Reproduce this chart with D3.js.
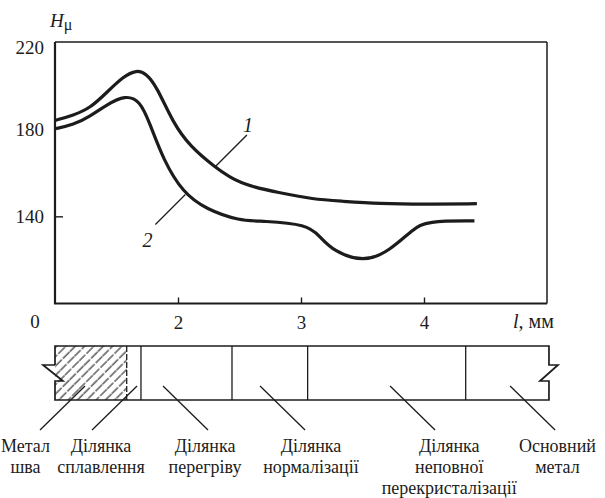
<!DOCTYPE html>
<html>
<head>
<meta charset="utf-8">
<script src="https://cdn.jsdelivr.net/npm/d3@7"></script>
<style>
  body { margin: 0; background: #fff; }
</style>
</head>
<body>
<svg id="chart" width="605" height="498"></svg>
<script>
// microhardness curves, [l (mm), H]
var curve1 = [[1.0, 184], [1.15, 186.4], [1.285, 189.6], [1.42, 196.8], [1.555, 204.2], [1.664, 207.2],
  [1.74, 205.6], [1.827, 199.6], [1.96, 182.8], [2.10, 172], [2.29, 163], [2.50, 154.6],
  [2.83, 150.8], [3.10, 147.8], [3.32, 147], [3.64, 145.8], [4.0, 145.5], [4.43, 145.8]];
var curve2 = [[1.0, 180.2], [1.15, 182], [1.285, 185.9], [1.42, 191.2], [1.57, 195.6], [1.69, 193.2],
  [1.77, 182.8], [1.88, 166], [2.04, 150.8], [2.23, 143.2], [2.50, 137.9], [2.69, 137.9],
  [3.05, 136.3], [3.15, 131], [3.26, 124.1], [3.51, 118.8], [3.72, 124.1], [3.91, 134.1],
  [4.02, 137.9], [4.41, 137.9]];
var curveNames = ["1", "2"];
var curveLabelAt = [2.30, 2.06];   // where the callout touches the curve (mm)

var xTicks = [2, 3, 4];
var yTicks = [140, 180, 220];

// zones of the weld joint (mm along l)
var zoneEdges = [1.0, 1.583, 1.699, 2.439, 3.054, 4.339, 5.016];
var zoneNames = [["Метал", "шва"], ["Ділянка", "сплавлення"], ["Ділянка", "перегріву"],
  ["Ділянка", "нормалізації"], ["Ділянка", "неповної", "перекристалізації"], ["Основний", "метал"]];
var zoneLabelAt = [0.76, 1.374, 2.22, 3.081, 4.205, 5.085];
var zoneLeaderAt = [1.244, 1.667, 1.878, 2.667, 3.724, 4.70];
var zoneLeaderDir = [-1, -1, 1, 1, 1, 1];

var serif = "'Liberation Serif', 'DejaVu Serif', serif";
var ink = "#1c1c1c";

var svg = d3.select("#chart").attr("font-family", serif);
var x = d3.scaleLinear().domain([1, 5]).range([55, 547]);
var y = d3.scaleLinear().domain([100, 220]).range([303.5, 42]);

// axes
var gx = svg.append("g").attr("transform", "translate(0," + y(100) + ")")
  .call(d3.axisBottom(x).tickValues(xTicks).tickSize(-6).tickFormat(d3.format("d")));
gx.attr("font-family", serif).attr("font-size", 19);
gx.select(".domain").remove();
gx.selectAll("line").attr("stroke", ink).attr("stroke-width", 1.4);
gx.selectAll("text").attr("y", 25).attr("dy", null).attr("fill", ink);

var gy = svg.append("g").attr("transform", "translate(" + x(1) + ",0)")
  .call(d3.axisLeft(y).tickValues(yTicks).tickSize(-8).tickPadding(11));
gy.attr("font-family", serif).attr("font-size", 19);
gy.select(".domain").remove();
gy.selectAll("line").attr("stroke", ink).attr("stroke-width", 1.4);
// 220 sits on the frame, 180 is hidden under curve 2
gy.selectAll(".tick").filter(function (d) { return d !== 140; }).select("line").remove();
gy.selectAll("text").attr("fill", ink)
  .attr("dy", function (d) { return d === 220 ? "0.62em" : "0.32em"; });

// frame
svg.append("line").attr("x1", x(1)).attr("x2", x(1)).attr("y1", y(220)).attr("y2", y(100))
  .attr("stroke", ink).attr("stroke-width", 2.2);
svg.append("line").attr("x1", x(1) - 1).attr("x2", x(5)).attr("y1", y(100)).attr("y2", y(100))
  .attr("stroke", ink).attr("stroke-width", 2.2);
svg.append("line").attr("x1", x(1)).attr("x2", x(5)).attr("y1", y(220)).attr("y2", y(220))
  .attr("stroke", ink).attr("stroke-width", 1.5);
svg.append("line").attr("x1", x(5)).attr("x2", x(5)).attr("y1", y(220)).attr("y2", y(100))
  .attr("stroke", ink).attr("stroke-width", 1.5);

// axis titles
var ht = svg.append("text").attr("x", 50).attr("y", 27).attr("font-size", 19).attr("fill", ink);
ht.append("tspan").attr("font-style", "italic").text("H");
ht.append("tspan").attr("font-size", 16).attr("dy", 3).text("μ");

svg.append("text").attr("x", 35).attr("y", 328).attr("text-anchor", "middle")
  .attr("font-size", 19).attr("fill", ink).text("0");
var lt = svg.append("text").attr("x", 513).attr("y", 328).attr("font-size", 20).attr("fill", ink);
lt.append("tspan").attr("font-style", "italic").text("l");
lt.append("tspan").text(", мм");

// curves
var line = d3.line().x(function (d) { return x(d[0]); }).y(function (d) { return y(d[1]); })
  .curve(d3.curveBasis);
[curve1, curve2].forEach(function (c) {
  svg.append("path").attr("d", line(c)).attr("fill", "none")
    .attr("stroke", ink).attr("stroke-width", 3.2).attr("stroke-linejoin", "round");
});

// curve callouts
function valueAt(c, l) {
  for (var i = 1; i < c.length; i++) {
    if (c[i][0] >= l) {
      var t = (l - c[i - 1][0]) / (c[i][0] - c[i - 1][0]);
      return c[i - 1][1] + t * (c[i][1] - c[i - 1][1]);
    }
  }
  return c[c.length - 1][1];
}
var calloutOffset = [[32, -32], [-30, 30]];
var calloutText = [[1, -3], [-8, 22]];
[curve1, curve2].forEach(function (c, i) {
  var px = x(curveLabelAt[i]), py = y(valueAt(c, curveLabelAt[i]));
  svg.append("line").attr("x1", px).attr("y1", py)
    .attr("x2", px + calloutOffset[i][0]).attr("y2", py + calloutOffset[i][1])
    .attr("stroke", ink).attr("stroke-width", 1.3);
  svg.append("text")
    .attr("x", px + calloutOffset[i][0] + calloutText[i][0])
    .attr("y", py + calloutOffset[i][1] + calloutText[i][1])
    .attr("text-anchor", "middle").attr("font-size", 20).attr("font-style", "italic")
    .attr("fill", ink).text(curveNames[i]);
});

// weld joint scheme
var schemeTop = 346, schemeBot = 400, notchY1 = 365, notchY2 = 381;
var xl = x(zoneEdges[0]), xr = x(zoneEdges[zoneEdges.length - 1]);

var defs = svg.append("defs");
defs.append("pattern").attr("id", "hatch").attr("patternUnits", "userSpaceOnUse")
  .attr("width", 6.6).attr("height", 20).attr("patternTransform", "rotate(45)")
  .append("line").attr("x1", 1).attr("y1", 0).attr("x2", 1).attr("y2", 20)
  .attr("stroke", "#222").attr("stroke-width", 1.1).attr("stroke-dasharray", "9,1.5");

svg.append("rect").attr("x", xl).attr("y", schemeTop)
  .attr("width", x(zoneEdges[1]) - xl).attr("height", schemeBot - schemeTop)
  .attr("fill", "url(#hatch)");

var outline = d3.path();
outline.moveTo(xl, notchY1);
outline.lineTo(xl, schemeTop); outline.lineTo(xr, schemeTop); outline.lineTo(xr, notchY1);
outline.lineTo(xr + 9, notchY1); outline.lineTo(xr - 9, notchY2); outline.lineTo(xr, notchY2);
outline.lineTo(xr, schemeBot); outline.lineTo(xl, schemeBot); outline.lineTo(xl, notchY2);
outline.lineTo(xl + 8, notchY2); outline.lineTo(xl - 12, notchY1); outline.lineTo(xl, notchY1);
svg.append("path").attr("d", outline.toString()).attr("fill", "none")
  .attr("stroke", ink).attr("stroke-width", 1.7).attr("stroke-linejoin", "miter");

zoneEdges.slice(1, -1).forEach(function (e, i) {
  svg.append("line").attr("x1", x(e)).attr("x2", x(e)).attr("y1", schemeTop).attr("y2", schemeBot)
    .attr("stroke", ink).attr("stroke-width", 1.3)
    .attr("stroke-dasharray", i === 0 ? "6,2" : null);
});

// zone leaders and labels
zoneNames.forEach(function (lines, i) {
  var x0 = x(zoneLeaderAt[i]);
  svg.append("line").attr("x1", x0).attr("y1", 386)
    .attr("x2", x0 + zoneLeaderDir[i] * 45).attr("y2", 430)
    .attr("stroke", ink).attr("stroke-width", 1.3);
  var t = svg.append("text").attr("text-anchor", "middle").attr("font-size", 18).attr("fill", ink);
  lines.forEach(function (s, k) {
    t.append("tspan").attr("x", x(zoneLabelAt[i])).attr("y", 452 + k * 21).text(s);
  });
});
</script>
</body>
</html>
